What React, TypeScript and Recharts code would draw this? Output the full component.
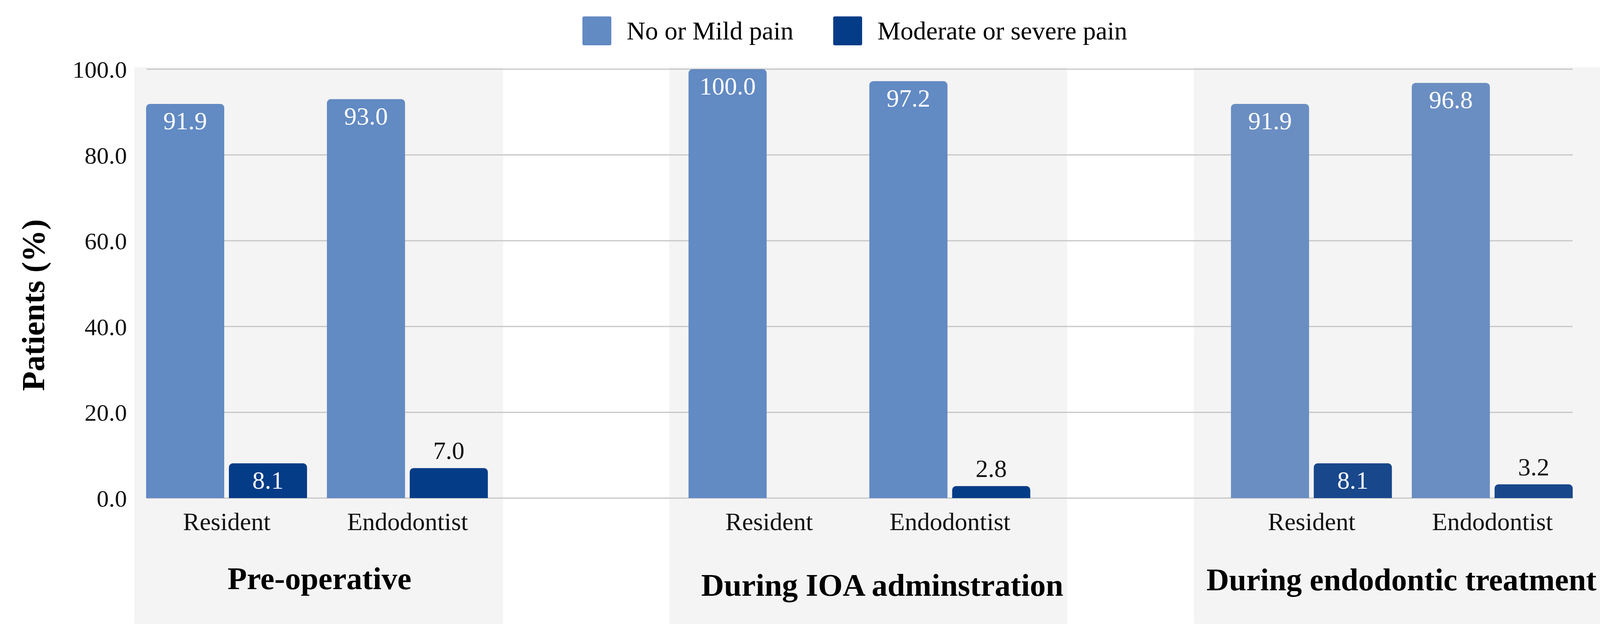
import { BarChart, Bar, XAxis, YAxis, CartesianGrid, Legend, LabelList, ReferenceArea, Cell } from "recharts";

const FONT = '"Liberation Serif", "Times New Roman", serif';

const groups = ["Pre-operative", "During IOA adminstration", "During endodontic treatment"];
const providers = ["Resident", "Endodontist"];
const noOrMildPain = [91.9, 93.0, 100.0, 97.2, 91.9, 96.8];
const moderateOrSeverePain = [8.1, 7.0, 0.0, 2.8, 8.1, 3.2];
const yTicks = [0, 20, 40, 60, 80, 100];

const seriesNames = { none: "No or Mild pain", mod: "Moderate or severe pain" };
const colors = { none: "#628AC3", mod: "#053C87" };
// the last panel is printed a shade lighter in the source
const groupColors = [
  { none: "#628AC3", mod: "#053C87" },
  { none: "#628AC3", mod: "#053C87" },
  { none: "#6A8EC2", mod: "#18478B" },
];

// grey panel behind each group: extra px beyond the category edges, label placement
const panels = [
  { left: 5, right: 13, top: 5, bottom: 322, labelDx: 2, labelDy: 233, font: 81 },
  { left: 24, right: 68, top: 5, bottom: 322, labelDx: 36, labelDy: 250, font: 81 },
  { left: 70, right: 95, top: 5, bottom: 322, labelDx: -14, labelDy: 236, font: 80 },
];

const rows: any[] = [];
groups.forEach((g, gi) => {
  if (gi > 0) rows.push({ key: `gap${gi}`, provider: "", group: gi, none: null, mod: null });
  providers.forEach((p, pi) => {
    rows.push({
      key: `${gi}-${p}`,
      provider: p,
      group: gi,
      none: noOrMildPain[gi * 2 + pi],
      mod: moderateOrSeverePain[gi * 2 + pi],
    });
  });
});

const BarValue = (props: any) => {
  const { value } = props;
  if (value == null || value === 0) return null;
  const x = Number(props.x), y = Number(props.y), w = Number(props.width), h = Number(props.height);
  const inside = h > 80;
  return (
    <text x={x + w / 2} y={inside ? y + 65 : y - 23} textAnchor="middle" fontSize={64}
      fontFamily={FONT} fill={inside ? "#ffffff" : "#111111"}>
      {Number(value).toFixed(1)}
    </text>
  );
};

const panelShape = (gi: number) => (props: any) => {
  const pl = panels[gi];
  const x = props.x - pl.left;
  const y = props.y - pl.top;
  const w = props.width + pl.left + pl.right;
  const h = props.height + pl.top + pl.bottom;
  const bottom = props.y + props.height;
  return (
    <g>
      <rect x={x} y={y} width={w} height={h} fill="#F4F4F4" />
      <text x={x + w / 2 + pl.labelDx} y={bottom + pl.labelDy} textAnchor="middle"
        fontSize={pl.font} fontWeight="bold" fontFamily={FONT} fill="#000">
        {groups[gi]}
      </text>
    </g>
  );
};

const yLabel = (props: any) => {
  const vb = props.viewBox || { x: 0, y: 0, width: 0, height: 0 };
  const x = vb.x + 113;
  const y = vb.y + vb.height / 2 + 55;
  return (
    <text x={x} y={y} transform={`rotate(-90 ${x} ${y})`} textAnchor="middle"
      fontSize={82} fontWeight="bold" fontFamily={FONT} fill="#000">
      Patients (%)
    </text>
  );
};

const renderLegend = () => (
  <div style={{ height: 177, display: "flex", justifyContent: "center", alignItems: "flex-start",
    paddingTop: 42, paddingRight: 24, boxSizing: "border-box", fontFamily: FONT }}>
    {(["none", "mod"] as const).map((k, i) => (
      <div key={k} style={{ display: "flex", alignItems: "center", marginLeft: i ? 102 : 0 }}>
        <span style={{ width: 74, height: 74, background: colors[k], borderRadius: 4, marginRight: 39, display: "inline-block" }} />
        <span style={{ fontSize: 66, color: "#000", lineHeight: "74px" }}>{seriesNames[k]}</span>
      </div>
    ))}
  </div>
);

export default function App() {
  return (
    <div style={{ position: "absolute", left: 0, top: 0, width: 4183, height: 1628, background: "#fff", fontFamily: FONT }}>
      <BarChart width={4183} height={1628} data={rows} barGap={12}
        margin={{ top: 0, right: 157, bottom: 0, left: 0 }}>
        {groups.map((g, gi) => (
          <ReferenceArea key={g} x1={`${gi}-Resident`} x2={`${gi}-Endodontist`} y1={0} y2={100}
            ifOverflow="visible" zIndex={-150} shape={panelShape(gi)} />
        ))}
        <CartesianGrid vertical={false} stroke="#C6C6C6" strokeWidth={3} />
        <XAxis dataKey="key" height={353} padding={{ left: -26, right: -26 }} interval={0}
          tickLine={false} axisLine={false} tickSize={0} tickMargin={37}
          tickFormatter={(v: string) => rows.find((r) => r.key === v)?.provider ?? ""}
          tick={{ fontSize: 64, fill: "#111", fontFamily: FONT }} />
        <YAxis width={375} domain={[0, 100]} ticks={yTicks} interval={0}
          tickFormatter={(v: number) => v.toFixed(1)} tickLine={false} axisLine={false}
          tickSize={0} tickMargin={50} tick={{ fontSize: 62, fill: "#111", fontFamily: FONT }}
          label={yLabel} />
        <Legend verticalAlign="top" align="center" wrapperStyle={{ top: 0, left: 375, width: 3651 }}
          content={renderLegend} />
        <Bar dataKey="none" name={seriesNames.none} fill={colors.none} barSize={200}
          radius={[10, 10, 0, 0]} isAnimationActive={false}>
          {rows.map((r) => <Cell key={r.key} fill={groupColors[r.group].none} />)}
          <LabelList dataKey="none" content={BarValue} />
        </Bar>
        <Bar dataKey="mod" name={seriesNames.mod} fill={colors.mod} barSize={200}
          radius={[10, 10, 0, 0]} isAnimationActive={false}>
          {rows.map((r) => <Cell key={r.key} fill={groupColors[r.group].mod} />)}
          <LabelList dataKey="mod" content={BarValue} />
        </Bar>
      </BarChart>
    </div>
  );
}
